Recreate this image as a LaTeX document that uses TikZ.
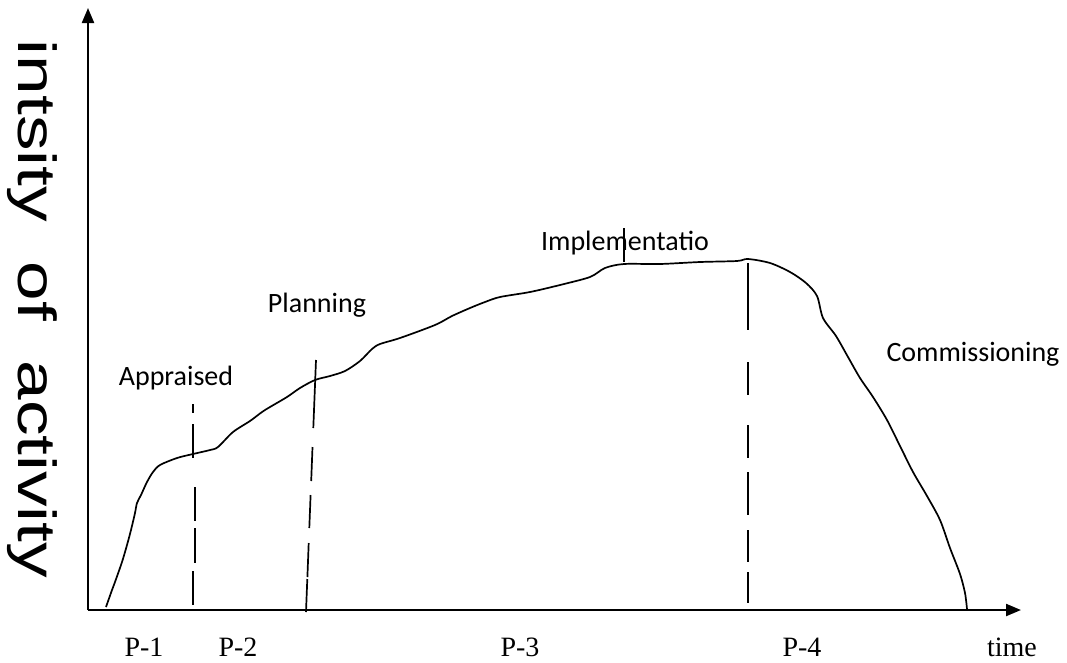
\documentclass[tikz,border=0pt]{standalone}
\usepackage{fontspec}
\setmainfont{Liberation Serif}
\newfontfamily\labelfont{Carlito}
\newfontfamily\axisfont{Liberation Sans}
\usetikzlibrary{arrows.meta}
\tikzset{
  axisline/.style={line width=2.2pt,-{Triangle[length=15pt,width=12pt]}},
  curveline/.style={line width=1.7pt,line join=round},
  divider/.style={line width=1.7pt},
  phase/.style={font=\labelfont\fontsize{28}{30}\selectfont,inner sep=0pt},
  period/.style={font=\fontsize{28}{30}\selectfont,inner sep=0pt},
}
\begin{document}
\begin{tikzpicture}[x=1pt,y=-1pt]
\useasboundingbox (0,0) rectangle (1067,662);
\fill[white] (0,0) rectangle (1067,662);

% axes
\coordinate (O) at (88,610);
\coordinate (ytop) at (88,8);
\coordinate (xend) at (1021,610);
\draw[axisline] (O) -- (ytop);
\draw[axisline] (O) -- (xend);

% axis labels
\node[rotate=-90,inner sep=0pt] (ylab) at (32,309)
  {\resizebox*{538pt}{50pt}{\axisfont intsity\ \ of\ \ activity}};
\node[period] (time) at (1012,647) {time};

% activity curve
\draw[curveline] plot[smooth,tension=0.5] coordinates {
 (106,607) (112,590) (115,582) (122,562) (127,545) (131,530) (135,513)
 (137,503) (141,495) (147,482) (153,472) (160,465) (177,458) (193,454)
 (210,450) (218,447) (233,432) (250,421) (262,412) (270,407) (287,397)
 (300,388) (315,380) (330,376) (345,371) (360,361) (372,349) (380,344)
 (400,338) (435,325) (452,316) (470,308) (485,302) (500,297) (530,292)
 (560,285) (590,277) (605,268) (624,264) (660,264) (700,262) (737,261)
 (748,259) (770,263) (790,272) (806,283) (817,296) (823,318) (836,336)
 (848,357) (860,378) (873,397) (887,420) (900,446) (913,472) (927,496)
 (940,520) (950,548) (960,574) (965,593) (967,609)};

% phase dividers (broken vertical lines)
\draw[divider] (193,404) -- (193,413)  (193,424) -- (193,458)
               (195,487) -- (195,521)  (195,528) -- (195,563)
               (193,571) -- (193,605);
\draw[divider] (316,360) -- (313.3,428)  (312.5,447) -- (311.2,481)
               (310.6,495) -- (309.3,528)  (308.7,543) -- (307.4,577)
               (307.3,579) -- (306,612);
\draw[divider] (748,263) -- (748,330)  (748,362) -- (748,395)
               (748,425) -- (748,458)  (748,472) -- (748,515)
               (748,530) -- (748,562)  (748,572) -- (748,603);

% phase names
\node[phase] (appr) at (176,378) {Appraised};
\node[phase] (plan) at (317,305) {Planning};
\node[phase] (impl) at (625,243) {Implementatio};
\node[phase] (comm) at (973,354) {Commissioning};
\coordinate (implpt) at (624,262);
\draw[line width=1.5pt] (624,228) -- (implpt);

% period labels
\node[period] (p1) at (144,647) {P-1};
\node[period] (p2) at (238,647) {P-2};
\node[period] (p3) at (520,647) {P-3};
\node[period] (p4) at (802,647) {P-4};
\end{tikzpicture}
\end{document}
